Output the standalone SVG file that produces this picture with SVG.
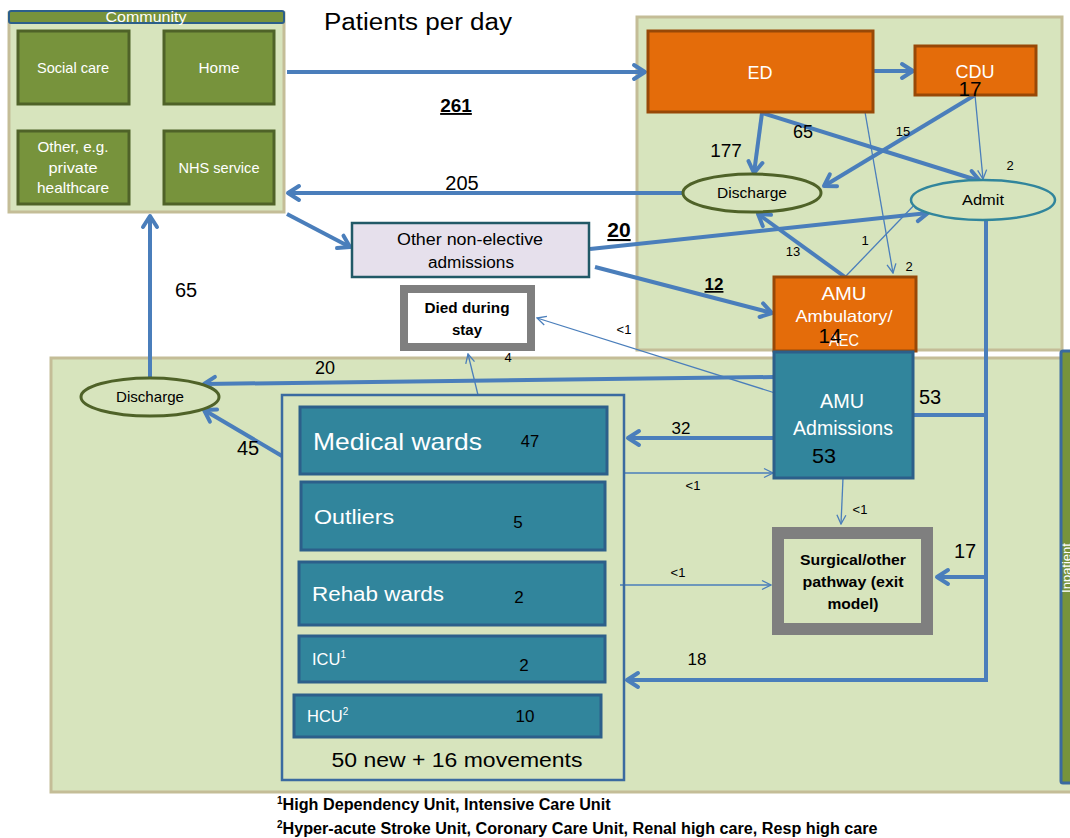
<svg xmlns="http://www.w3.org/2000/svg" width="1070" height="838" viewBox="0 0 1070 838">
<defs>
<style>
text{font-family:"Liberation Sans",Arial,sans-serif;}
.panel{fill:#d7e4bd;stroke:#c4bd97;stroke-width:3;}
.comm{fill:#77933c;stroke:#4f6228;stroke-width:3;}
.orange{fill:#e46c0a;stroke:#984807;stroke-width:3;}
.teal{fill:#31859c;stroke:#2c5f8a;stroke-width:3;}
.wt{fill:#fff;text-anchor:middle;}
.wl{fill:#fff;}
.bk{fill:#000;text-anchor:middle;}
.thick{stroke:#4a7ebb;stroke-width:4;fill:none;}
.thin{stroke:#4a7ebb;stroke-width:1.3;fill:none;}
.ah{marker-end:url(#mk);}
.at{marker-end:url(#mt);}
.b{font-weight:bold;}
.u{text-decoration:underline;}
</style>
<marker id="mk" markerUnits="userSpaceOnUse" viewBox="0 0 20 20" markerWidth="20" markerHeight="20" refX="17" refY="10" orient="auto">
<path d="M6,3 L17,10 L6,17" fill="none" stroke="#4a7ebb" stroke-width="4" stroke-linecap="round" stroke-linejoin="round"/>
</marker>
<marker id="mt" markerUnits="userSpaceOnUse" viewBox="0 0 12 12" markerWidth="12" markerHeight="12" refX="11" refY="6" orient="auto">
<path d="M2,1.5 L11,6 L2,10.5" fill="none" stroke="#4a7ebb" stroke-width="1.3"/>
</marker>
</defs>
<rect width="1070" height="838" fill="#fff"/>

<g id="panels">
<rect class="panel" x="637" y="17" width="425" height="333"/>
<rect class="panel" x="51" y="358" width="1030" height="434"/>
<rect x="1061" y="351" width="14" height="432" rx="2" fill="#77933c" stroke="#3a6aa0" stroke-width="3"/>
<text class="wt" font-size="13" transform="translate(1071,568) rotate(-90)">Inpatient</text>
</g>

<g id="community">
<rect class="panel" x="9" y="13" width="275" height="199"/>
<rect x="9" y="11" width="275" height="12" rx="2" fill="#77933c" stroke="#2c5f8a" stroke-width="2"/>
<text class="wt" x="146" y="22" font-size="14" textLength="81" lengthAdjust="spacingAndGlyphs">Community</text>
<g id="socialcare"><rect class="comm" x="18" y="31" width="111" height="73"/><text class="wt" x="73" y="73" font-size="14.5" textLength="72" lengthAdjust="spacingAndGlyphs">Social care</text></g>
<g id="home"><rect class="comm" x="164" y="31" width="110" height="73"/><text class="wt" x="219" y="73" font-size="14.5" textLength="41" lengthAdjust="spacingAndGlyphs">Home</text></g>
<g id="other"><rect class="comm" x="18" y="131" width="111" height="73"/><text class="wt" x="73" y="152" font-size="14.5" textLength="71" lengthAdjust="spacingAndGlyphs">Other, e.g.</text><text class="wt" x="73" y="173" font-size="14.5" textLength="49" lengthAdjust="spacingAndGlyphs">private</text><text class="wt" x="73" y="193" font-size="14.5" textLength="72" lengthAdjust="spacingAndGlyphs">healthcare</text></g>
<g id="nhs"><rect class="comm" x="164" y="131" width="110" height="73"/><text class="wt" x="219" y="173" font-size="14.5" textLength="81" lengthAdjust="spacingAndGlyphs">NHS service</text></g>
</g>

<text x="324" y="30" font-size="23" fill="#000" textLength="188" lengthAdjust="spacingAndGlyphs">Patients per day</text>

<g id="connectors">
<line class="thick ah" x1="287" y1="72" x2="645" y2="72"/>
<line class="thick ah" x1="873" y1="71" x2="913" y2="71"/>
<line class="thick ah" x1="683" y1="193" x2="288" y2="193"/>
<polyline class="thick ah" points="762,113 754,173"/>
<line class="thick ah" x1="762" y1="113" x2="980" y2="181"/>
<line class="thin at" x1="865" y1="112" x2="893" y2="273"/>
<line class="thick ah" x1="975" y1="95" x2="824" y2="186"/>
<line class="thin at" x1="975" y1="95" x2="983" y2="179"/>
<line class="thick ah" x1="287" y1="214" x2="350" y2="247"/>
<line class="thick ah" x1="590" y1="249" x2="928" y2="213"/>
<line class="thick ah" x1="595" y1="267" x2="772" y2="313"/>
<line class="thick ah" x1="845" y1="277" x2="758" y2="214"/>
<line class="thin at" x1="845" y1="277" x2="920" y2="199"/>
<polyline class="thick" points="986,220 986,680 630,680"/>
<line class="thick ah" x1="630" y1="680" x2="627" y2="680"/>
<line class="thick ah" x1="986" y1="415" x2="895" y2="415"/>
<line class="thick ah" x1="986" y1="577" x2="937" y2="577"/>
<line class="thick ah" x1="150" y1="377" x2="150" y2="216"/>
<line class="thick ah" x1="774" y1="377" x2="204" y2="384"/>
<line class="thick ah" x1="282" y1="456" x2="204" y2="410"/>
<line class="thick ah" x1="774" y1="438" x2="628" y2="438"/>
<line class="thin at" x1="624" y1="473" x2="773" y2="473"/>
<line class="thin at" x1="843" y1="478" x2="841" y2="524"/>
<line class="thin at" x1="620" y1="585" x2="771" y2="585"/>
<line class="thin at" x1="478" y1="395" x2="468" y2="354"/>
<line class="thin at" x1="775" y1="393" x2="537" y2="318"/>
</g>

<g id="ed"><rect class="orange" x="648" y="31" width="225" height="81"/><text class="wt" x="760" y="79" font-size="18">ED</text></g>
<g id="cdu"><rect class="orange" x="915" y="46" width="121" height="49"/><text class="wt" x="975" y="78" font-size="18">CDU</text></g>
<g id="discharge-ed"><ellipse cx="752" cy="193" rx="69" ry="19" fill="#d7e4bd" stroke="#4f6228" stroke-width="3"/><text class="bk" x="752" y="198" font-size="15" textLength="70" lengthAdjust="spacingAndGlyphs">Discharge</text></g>
<g id="admit"><ellipse cx="983" cy="200" rx="72" ry="20" fill="#d7e4bd" stroke="#31859c" stroke-width="2.5"/><text class="bk" x="983" y="205" font-size="15.5" textLength="42" lengthAdjust="spacingAndGlyphs">Admit</text></g>
<g id="other-ne"><rect x="352" y="223" width="237" height="54" fill="#e6e0ec" stroke="#215967" stroke-width="2.5"/><text class="bk" x="470" y="245" font-size="16" textLength="146" lengthAdjust="spacingAndGlyphs">Other non-elective</text><text class="bk" x="471" y="268" font-size="16" textLength="86" lengthAdjust="spacingAndGlyphs">admissions</text></g>
<g id="amu-amb"><rect class="orange" x="774" y="277" width="142" height="74"/><text class="wt" x="844" y="300" font-size="19" textLength="45" lengthAdjust="spacingAndGlyphs">AMU</text><text class="wt" x="844" y="322" font-size="16.5" textLength="97" lengthAdjust="spacingAndGlyphs">Ambulatory/</text><text class="wt" x="844" y="346" font-size="16.5" textLength="30" lengthAdjust="spacingAndGlyphs">AEC</text><text class="bk" x="830" y="343" font-size="21" textLength="23" lengthAdjust="spacingAndGlyphs">14</text></g>
<g id="died"><rect x="404" y="289" width="127" height="58" fill="#fff" stroke="#7f7f7f" stroke-width="8"/><text class="bk b" x="467" y="313" font-size="14.5" textLength="85" lengthAdjust="spacingAndGlyphs">Died during</text><text class="bk b" x="467" y="335" font-size="14.5" textLength="30" lengthAdjust="spacingAndGlyphs">stay</text></g>
<g id="amu-adm"><rect class="teal" x="774" y="352" width="139" height="126"/><text class="wt" x="842" y="408" font-size="19.5" textLength="44" lengthAdjust="spacingAndGlyphs">AMU</text><text class="wt" x="843" y="435" font-size="19.5" textLength="100" lengthAdjust="spacingAndGlyphs">Admissions</text><text class="bk" x="824" y="463" font-size="21" textLength="24" lengthAdjust="spacingAndGlyphs">53</text></g>
<g id="discharge-in"><ellipse cx="150" cy="397" rx="69" ry="19" fill="#d7e4bd" stroke="#4f6228" stroke-width="3"/><text class="bk" x="150" y="402" font-size="15" textLength="68" lengthAdjust="spacingAndGlyphs">Discharge</text></g>
<g id="surgical"><rect x="778" y="533" width="149" height="96" fill="#d7e4bd" stroke="#7f7f7f" stroke-width="12"/><text class="bk b" x="853" y="565" font-size="14.5" textLength="106" lengthAdjust="spacingAndGlyphs">Surgical/other</text><text class="bk b" x="853" y="587" font-size="14.5" textLength="101" lengthAdjust="spacingAndGlyphs">pathway (exit</text><text class="bk b" x="853" y="609" font-size="14.5" textLength="51" lengthAdjust="spacingAndGlyphs">model)</text></g>

<g id="wards">
<rect x="282" y="395" width="342" height="385" fill="none" stroke="#3a6aa0" stroke-width="2.5"/>
<g id="medical"><rect class="teal" x="300" y="407" width="307" height="67"/><text class="wl" x="313" y="450" font-size="24" textLength="169" lengthAdjust="spacingAndGlyphs">Medical wards</text><text class="bk" x="530" y="447" font-size="16.5">47</text></g>
<g id="outliers"><rect class="teal" x="301" y="482" width="304" height="68"/><text class="wl" x="314" y="524" font-size="20" textLength="80" lengthAdjust="spacingAndGlyphs">Outliers</text><text class="bk" x="518" y="528" font-size="17">5</text></g>
<g id="rehab"><rect class="teal" x="299" y="562" width="306" height="63"/><text class="wl" x="312" y="601" font-size="20" textLength="132" lengthAdjust="spacingAndGlyphs">Rehab wards</text><text class="bk" x="519" y="603" font-size="17">2</text></g>
<g id="icu"><rect class="teal" x="299" y="636" width="306" height="46"/><text class="wl" x="312" y="665" font-size="16.5">ICU<tspan font-size="10" dy="-7">1</tspan></text><text class="bk" x="524" y="671" font-size="17">2</text></g>
<g id="hcu"><rect class="teal" x="294" y="695" width="307" height="42"/><text class="wl" x="307" y="722" font-size="16.5">HCU<tspan font-size="10" dy="-7">2</tspan></text><text class="bk" x="525" y="722" font-size="17">10</text></g>
<text class="bk" x="457" y="767" font-size="20" textLength="251" lengthAdjust="spacingAndGlyphs">50 new + 16 movements</text>
</g>

<g id="labels" fill="#000">
<text class="bk b u" x="456" y="112" font-size="19">261</text>
<text class="bk" x="462" y="190" font-size="20">205</text>
<text class="bk" x="726" y="157" font-size="19">177</text>
<text class="bk" x="803" y="138" font-size="18">65</text>
<text class="bk" x="903" y="136" font-size="13">15</text>
<text class="bk" x="970" y="96" font-size="21" textLength="23" lengthAdjust="spacingAndGlyphs">17</text>
<text class="bk" x="1010" y="170" font-size="13">2</text>
<text class="bk" x="909" y="271" font-size="13">2</text>
<text class="bk" x="793" y="256" font-size="13">13</text>
<text class="bk" x="865" y="245" font-size="13">1</text>
<text class="bk b u" x="619" y="237" font-size="21">20</text>
<text class="bk b u" x="714" y="290" font-size="17">12</text>
<text class="bk" x="624" y="334" font-size="13">&lt;1</text>
<text class="bk" x="508" y="362" font-size="13">4</text>
<text class="bk" x="186" y="297" font-size="20">65</text>
<text class="bk" x="325" y="374" font-size="18">20</text>
<text class="bk" x="248" y="455" font-size="20">45</text>
<text class="bk" x="681" y="434" font-size="17">32</text>
<text class="bk" x="693" y="490" font-size="13">&lt;1</text>
<text class="bk" x="860" y="514" font-size="13">&lt;1</text>
<text class="bk" x="678" y="577" font-size="13">&lt;1</text>
<text class="bk" x="930" y="404" font-size="20">53</text>
<text class="bk" x="965" y="558" font-size="20">17</text>
<text class="bk" x="697" y="665" font-size="17">18</text>
</g>

<g id="footnotes" font-weight="bold" font-size="16">
<text x="277" y="810"><tspan font-size="10" dy="-6">1</tspan><tspan dy="6" textLength="328" lengthAdjust="spacingAndGlyphs">High Dependency  Unit, Intensive Care Unit</tspan></text>
<text x="277" y="834"><tspan font-size="10" dy="-6">2</tspan><tspan dy="6" textLength="595" lengthAdjust="spacingAndGlyphs">Hyper-acute Stroke Unit, Coronary Care Unit, Renal high care, Resp high care</tspan></text>
</g>
</svg>
